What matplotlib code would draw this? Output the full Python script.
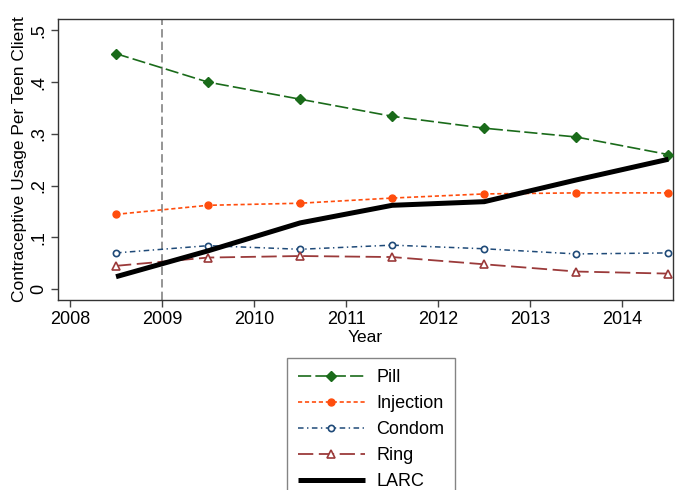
import matplotlib
matplotlib.use("Agg")
import matplotlib.pyplot as plt

plt.rcParams['font.family'] = ['Liberation Sans', 'DejaVu Sans']
plt.rcParams['lines.scale_dashes'] = False

years = [2008.5, 2009.5, 2010.5, 2011.5, 2012.5, 2013.5, 2014.5]
pill = [0.455, 0.400, 0.367, 0.334, 0.311, 0.294, 0.260]
injection = [0.1445, 0.162, 0.166, 0.176, 0.184, 0.186, 0.186]
condom = [0.070, 0.084, 0.077, 0.085, 0.078, 0.068, 0.070]
ring = [0.045, 0.061, 0.064, 0.062, 0.048, 0.034, 0.030]
larc = [0.024, 0.074, 0.128, 0.162, 0.169, 0.211, 0.251]

xticks = [2008, 2009, 2010, 2011, 2012, 2013, 2014]
yticks = [0, 0.1, 0.2, 0.3, 0.4, 0.5]
ytick_labels = ['0', '.1', '.2', '.3', '.4', '.5']

fig = plt.figure(figsize=(6.75, 4.9), dpi=100)
ax = fig.add_axes([58/675, 1-300/490, (673-58)/675, (300-19)/490])

ax.axvline(2009, color='#8c8c8c', lw=1.3, dashes=(6, 3), zorder=1)

ax.plot(years, pill, color='#1a6b1a', lw=1.2, dashes=(9.5, 3), marker='D', ms=5.5,
        label='Pill', zorder=3)
ax.plot(years, injection, color='#ff4d0d', lw=1.2, dashes=(3, 2), marker='o', ms=5,
        label='Injection', zorder=3)
ax.plot(years, condom, color='#1f4a78', lw=1.1, dashes=(4, 2.5, 1, 2.5), marker='o', ms=4.5,
        mfc='white', mew=1.2, label='Condom', zorder=3)
ax.plot(years, ring, color='#9b3a3a', lw=1.3, dashes=(11, 4), marker='^', ms=6,
        mfc='white', mew=1.2, label='Ring', zorder=3)
ax.plot(years, larc, color='black', lw=3.6, solid_capstyle='butt', label='LARC', zorder=4)

ax.set_xlim(2007.87, 2014.55)
ax.set_ylim(-0.021, 0.522)
ax.set_xticks(xticks)
ax.set_xticklabels([str(x) for x in xticks], fontsize=13)
ax.set_yticks(yticks)
ax.set_yticklabels(ytick_labels, fontsize=13, rotation=90, va='center')
ax.tick_params(axis='both', direction='out', length=5, width=1, color='#444444', pad=3)
for s in ax.spines.values():
    s.set_color('#333333')
    s.set_linewidth(1)

ax.set_xlabel('Year', fontsize=12.5, labelpad=1)
ax.set_ylabel('Contraceptive Usage Per Teen Client', fontsize=12.5, labelpad=2)

handles, labels = ax.get_legend_handles_labels()
leg = fig.legend(handles, labels, loc='upper left', bbox_to_anchor=(287/675, 1-358/490),
                 fontsize=13, frameon=True, fancybox=False, handlelength=3.7,
                 handletextpad=0.65, labelspacing=0.5, borderpad=0.6, borderaxespad=0)
leg.get_frame().set_edgecolor('#666666')
leg.get_frame().set_linewidth(1)

fig.savefig('out.png', dpi=100)
